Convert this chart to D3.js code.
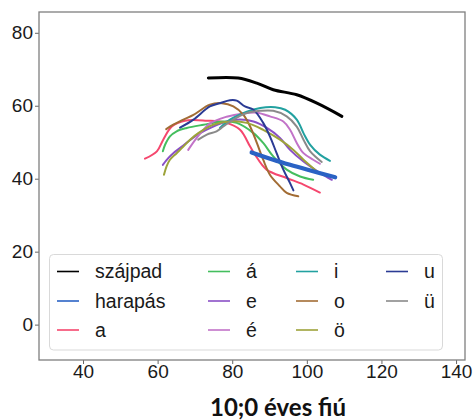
<!DOCTYPE html>
<html>
<head>
<meta charset="utf-8">
<script src="https://cdn.jsdelivr.net/npm/d3@7"></script>
<style>
  body { margin: 0; background: #fff; }
  svg text { font-family: "Liberation Sans", Arial, sans-serif; }
</style>
</head>
<body>
<div id="chart"></div>
<script>
// series names, colours and line widths (legend order)
var seriesNames = ["szájpad", "harapás", "a", "á", "e", "é", "i", "o", "ö", "u", "ü"]
var seriesColors = ["#000000", "#2a62c4", "#f5476e", "#44be5e", "#8a50c6", "#c273c8",
                    "#22a1a0", "#a26c34", "#9da33a", "#2b3b94", "#8a8a8a"]
var seriesWidths = [3, 4.2, 2, 2, 2, 2, 2, 2, 2, 2, 2]

// contour points, [x, y]
var szajpad = [[73.6,67.6],[81.6,67.6],[86.6,66.2],[91.0,64.4],[97.3,63.0],[102.7,60.7],[109.4,57.1]]
var harapas = [[85.2,47.2],[91.0,45.2],[95.5,43.8],[100.0,42.5],[107.6,40.4]]
var a_ = [[56.6,45.5],[59.8,47.5],[61.5,50.7],[63.8,54.3],[67.3,55.9],[73.2,55.9],[78.5,55.3],
          [82.1,53.4],[84.8,48.8],[86.1,46.6],[89.2,42.5],[94.6,40.2],[99.1,38.4],[103.5,36.2]]
var aa = [[61.4,47.5],[62.0,49.3],[63.3,51.6],[65.1,53.0],[67.8,53.9],[72.3,54.8],[77.6,55.7],
          [81.2,55.3],[85.7,52.5],[88.3,49.8],[91.0,46.1],[94.6,42.5],[98.2,40.6],[101.7,39.7]]
var e_ = [[61.4,43.8],[62.9,45.7],[64.2,47.0],[66.5,48.8],[68.2,50.2],[71.4,52.5],[74.9,54.3],
          [78.5,55.7],[82.1,56.2],[85.7,55.7],[89.2,54.0],[92.8,51.2],[95.5,47.9],[99.1,44.7],
          [103.5,41.6],[106.7,39.7]]
var ee = [[68.2,47.9],[70.5,51.2],[74.0,55.1],[78.5,57.0],[83.0,57.9],[86.6,58.1],[90.1,57.1],
          [93.7,55.7],[95.5,53.4],[97.3,49.8],[99.1,47.0],[101.7,45.2],[103.5,44.1]]
var i_ = [[76.7,53.9],[79.4,56.2],[83.9,58.4],[87.5,59.4],[91.5,59.6],[94.2,58.9],[97.3,56.2],
          [99.1,52.5],[100.9,49.3],[103.5,46.6],[106.2,44.9]]
var o_ = [[62.3,53.6],[64.2,54.8],[66.9,56.2],[69.6,57.5],[74.0,60.3],[77.2,60.7],[80.3,59.8],
          [83.0,57.5],[84.8,54.3],[86.6,49.8],[88.3,45.2],[90.1,41.1],[92.8,37.9],[94.6,36.1],[97.7,35.2]]
var oe = [[61.7,41.1],[62.4,43.4],[63.3,45.2],[65.1,47.0],[66.9,48.8],[68.7,50.7],[70.9,52.5],
          [74.9,54.8],[79.4,55.7],[83.9,55.3],[88.3,53.4],[92.8,50.7],[96.4,47.9],[99.1,45.2],[102.7,42.0]]
var u_ = [[66.0,54.0],[69.6,56.2],[74.0,59.8],[76.7,60.7],[79.4,61.5],[81.2,61.4],[83.4,59.8],
          [85.7,58.9],[88.3,55.3],[90.1,51.6],[91.9,47.0],[93.7,42.5],[95.5,38.8],[96.4,36.8]]
var ue = [[70.9,50.7],[73.2,52.1],[75.8,53.0],[77.6,54.3],[80.3,56.2],[83.9,58.0],[87.5,58.6],
          [91.0,58.6],[94.6,57.1],[97.3,54.3],[99.1,50.7],[100.9,47.5],[104.0,44.6]]

var seriesData = [szajpad, harapas, a_, aa, e_, ee, i_, o_, oe, u_, ue]

// axis ticks
var xTicks = [40, 60, 80, 100, 120, 140]
var yTicks = [0, 20, 40, 60, 80]
var title = "10;0 éves fiú"

var width = 475, height = 420
var margin = {top: 12, right: 10, bottom: 60, left: 39}

var svg = d3.select("#chart").append("svg")
    .attr("width", width)
    .attr("height", height)

var x = d3.scaleLinear().domain([28.2, 142.4]).range([margin.left, width - margin.right])
var y = d3.scaleLinear().domain([-9.7, 85.7]).range([height - margin.bottom, margin.top])

//axes
svg.append("g")
    .attr("transform", "translate(0," + (height - margin.bottom) + ")")
    .call(d3.axisBottom(x).tickValues(xTicks).tickSize(4).tickPadding(1))
svg.append("g")
    .attr("transform", "translate(" + margin.left + ",0)")
    .call(d3.axisLeft(y).tickValues(yTicks).tickSize(4).tickPadding(2))

svg.selectAll(".domain").remove()
svg.selectAll(".tick line").attr("stroke", "#666")
svg.selectAll(".tick text")
    .attr("fill", "#1a1a1a")
    .style("font-size", "19px")
    .style("font-family", "'Liberation Sans', Arial, sans-serif")

//frame
svg.append("rect")
    .attr("x", margin.left)
    .attr("y", margin.top)
    .attr("width", width - margin.left - margin.right)
    .attr("height", height - margin.top - margin.bottom)
    .attr("fill", "none")
    .attr("stroke", "#7f7f7f")
    .attr("stroke-width", 1.3)

var line = d3.line()
    .x(function(d) { return x(d[0]) })
    .y(function(d) { return y(d[1]) })
    .curve(d3.curveCatmullRom.alpha(0.5))

// draw the vowels first, then palate and bite on top
var order = [2, 3, 4, 5, 6, 7, 8, 9, 10, 0, 1]
svg.append("g").selectAll("path")
    .data(order)
    .enter()
    .append("path")
    .attr("d", function(i) { return line(seriesData[i]) })
    .attr("fill", "none")
    .attr("stroke", function(i) { return seriesColors[i] })
    .attr("stroke-width", function(i) { return seriesWidths[i] })
    .attr("stroke-linejoin", "round")
    .attr("stroke-linecap", "round")

// legend
var legend = svg.append("g")
legend.append("rect")
    .attr("x", 49.5).attr("y", 254.5)
    .attr("width", 393).attr("height", 95.5)
    .attr("rx", 4)
    .attr("fill", "#fff")
    .attr("fill-opacity", 0.8)
    .attr("stroke", "#d9d9d9")

var colX = [57, 208, 296, 386]
var rowY = [271.5, 301, 330]

var items = legend.selectAll(".item")
    .data(seriesNames)
    .enter()
    .append("g")
    .attr("class", "item")
    .attr("transform", function(d, i) {
        return "translate(" + colX[Math.floor(i / 3)] + "," + rowY[i % 3] + ")"
    })

items.append("line")
    .attr("x1", 0).attr("x2", 22)
    .attr("stroke", function(d, i) { return seriesColors[i] })
    .attr("stroke-width", 1.6)

items.append("text")
    .attr("x", 38)
    .attr("dy", "0.35em")
    .style("font-size", "19.5px")
    .attr("fill", "#1a1a1a")
    .text(function(d) { return d })

// title
svg.append("text")
    .attr("x", 278)
    .attr("y", 416)
    .attr("text-anchor", "middle")
    .style("font-family", "Lato, 'Open Sans', sans-serif")
    .style("font-weight", "bold")
    .style("font-size", "24px")
    .attr("fill", "#111")
    .text(title)
</script>
</body>
</html>
